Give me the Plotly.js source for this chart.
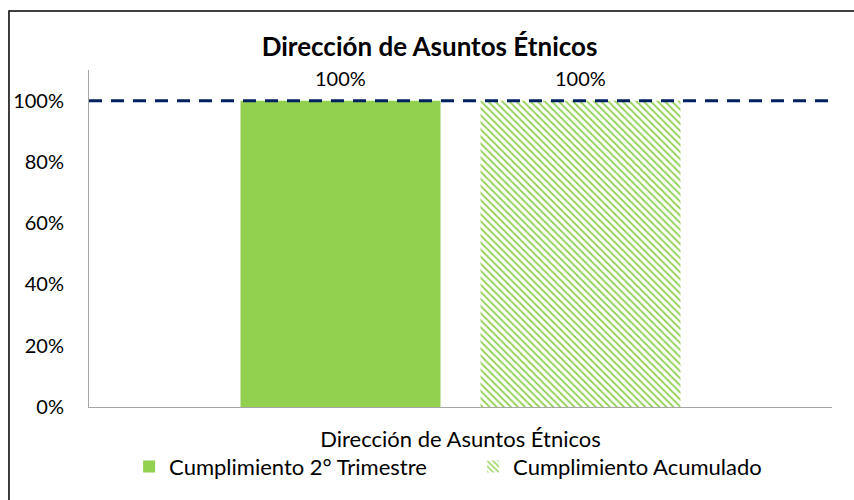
<!DOCTYPE html>
<html>
<head>
<meta charset="utf-8">
<script src="https://cdn.plot.ly/plotly-3.0.1.min.js"></script>
<style>
html,body{margin:0;padding:0;background:#fff;}
#chart{width:854px;height:500px;}
</style>
</head>
<body>
<div id="chart"></div>
<script>
const categories = ["Dirección de Asuntos Étnicos"];
const seriesNames = ["Cumplimiento 2° Trimestre", "Cumplimiento Acumulado"];
const trimestre = [1.0];
const acumulado = [1.0];
const meta = 1.0;
const yTicks = [0, 0.2, 0.4, 0.6, 0.8, 1.0];
const yTickLabels = ["0%", "20%", "40%", "60%", "80%", "100%"];

const FONT = "Lato, 'Open Sans', sans-serif";
const green = "#92D050";
const BARGAP = 0.354, BARGROUPGAP = 0.1666;
const slotOffset = (1 - BARGAP) / 4;
const pct = v => Math.round(v * 100) + "%";

const traces = [
  {
    type: "bar", name: seriesNames[0], x: categories, y: trimestre,
    marker: {color: green, line: {width: 0}}
  },
  {
    type: "bar", name: seriesNames[1], x: categories, y: acumulado,
    marker: {color: "#ffffff", line: {width: 0},
      pattern: {shape: "\\", fgcolor: green, bgcolor: "#ffffff", size: 5, solidity: 0.35}}
  }
];

const annotations = [];
[trimestre, acumulado].forEach((vals, s) => {
  vals.forEach((v, i) => {
    annotations.push({
      xref: "x", yref: "y", x: i + (s === 0 ? -slotOffset : slotOffset), y: v,
      text: pct(v), showarrow: false, yanchor: "middle", yshift: 23,
      font: {family: FONT, size: 20, color: "#000"}
    });
  });
});

const layout = {
  width: 854, height: 500,
  margin: {l: 89, r: 22, t: 70, b: 87},
  paper_bgcolor: "#fff", plot_bgcolor: "#fff",
  font: {family: FONT, color: "#000"},
  title: {text: "<b>Dirección de Asuntos Étnicos</b>", font: {family: FONT, size: 26, color: "#000"},
          x: 0.503, xanchor: "center", y: 0.906, yanchor: "middle"},
  barmode: "group", bargap: BARGAP, bargroupgap: BARGROUPGAP,
  xaxis: {type: "category", showline: true, linecolor: "#a6a6a6", linewidth: 1,
          ticks: "", showgrid: false, ticklabelstandoff: 13,
          tickfont: {family: FONT, size: 22, color: "#000"}, automargin: false},
  yaxis: {range: [0, 1.1], tickvals: yTicks, ticktext: yTickLabels, showgrid: false, zeroline: false,
          showline: true, linecolor: "#a6a6a6", linewidth: 1, ticks: "", ticklabelstandoff: 20,
          tickfont: {family: FONT, size: 20, color: "#000"}, automargin: false},
  showlegend: true,
  legend: {orientation: "h", x: 0.054, xanchor: "left", y: -0.115, yanchor: "top",
           bgcolor: "rgba(0,0,0,0)",
           font: {family: FONT, size: 22, color: "#000"}, itemwidth: 30, tracegroupgap: 0,
           entrywidth: 299, itemclick: false},
  annotations: annotations,
  shapes: [
    {type: "line", xref: "paper", yref: "y", x0: 0, x1: 0.997, y0: meta, y1: meta,
     line: {color: "#002060", width: 3, dash: "13px,9px"}, layer: "above"},
    {type: "rect", xref: "paper", yref: "paper", x0: -0.1077, x1: 2, y0: -2, y1: 1.175,
     line: {color: "#000", width: 1.5}, fillcolor: "rgba(0,0,0,0)"}
  ]
};

Plotly.newPlot("chart", traces, layout, {displayModeBar: false, staticPlot: true});
</script>
</body>
</html>
